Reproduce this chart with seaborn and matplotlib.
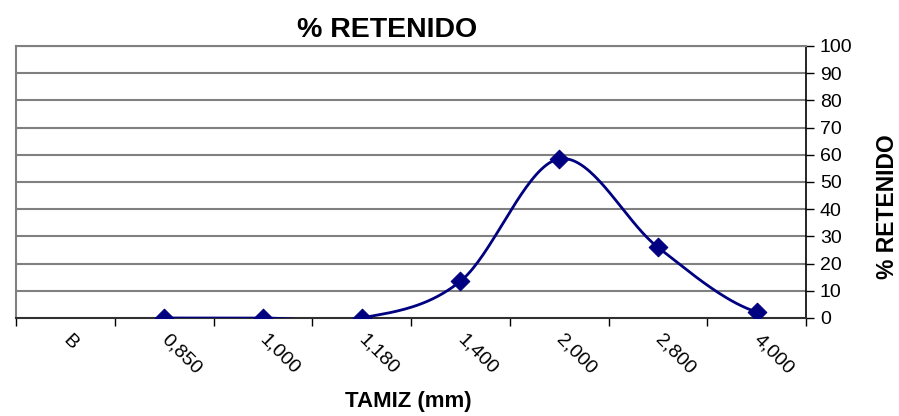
"""% retenido por tamiz"""

import matplotlib
matplotlib.use("Agg")
import matplotlib.pyplot as plt
import numpy as np
import pandas as pd
import seaborn as sns

# datos
tamices = ["B", "0,850", "1,000", "1,180", "1,400", "2,000", "2,800", "4,000"]
retenido = [np.nan, 0.0, 0.0, 0.0, 13.5, 58.5, 26.0, 2.2]
y_ticks = list(range(0, 101, 10))

NAVY = "#000080"
GRID = "#808080"


def catmull_rom(x, y, n=40):
    """Curva suavizada tipo Excel entre puntos consecutivos."""
    x = np.asarray(x, float)
    y = np.asarray(y, float)
    px = np.concatenate([[2 * x[0] - x[1]], x, [2 * x[-1] - x[-2]]])
    py = np.concatenate([[y[0]], y, [y[-1]]])
    xs, ys = [], []
    for i in range(1, len(px) - 2):
        t = np.linspace(0, 1, n)
        for p, out in ((px, xs), (py, ys)):
            p0, p1, p2, p3 = p[i - 1], p[i], p[i + 1], p[i + 2]
            out.append(0.5 * ((2 * p1) + (-p0 + p2) * t
                              + (2 * p0 - 5 * p1 + 4 * p2 - p3) * t ** 2
                              + (-p0 + 3 * p1 - 3 * p2 + p3) * t ** 3))
    return np.concatenate(xs), np.concatenate(ys)


sns.set_style("white")
plt.rcParams["font.family"] = ["Liberation Sans", "DejaVu Sans"]
plt.rcParams["text.color"] = "black"
plt.rcParams["xtick.color"] = "black"
plt.rcParams["ytick.color"] = "black"

df = pd.DataFrame({"pos": np.arange(len(tamices)), "tamiz": tamices, "ret": retenido})
pts = df.dropna()

fig = plt.figure(figsize=(8.99, 4.16), dpi=100)
ax = fig.add_axes([16 / 899, 1 - 318 / 416, 790 / 899, 272 / 416])

sx, sy = catmull_rom(pts["pos"], pts["ret"])
curve = pd.DataFrame({"x": sx, "y": sy})
sns.lineplot(data=curve, x="x", y="y", ax=ax, color=NAVY, lw=2, sort=False,
             estimator=None, zorder=3)
sns.scatterplot(data=pts, x="pos", y="ret", ax=ax, marker="D", s=90,
                color=NAVY, edgecolor=NAVY, zorder=4)

ax.set_xlim(-0.5, len(tamices) - 0.5)
ax.set_ylim(0, 100)

# eje y a la derecha
ax.yaxis.tick_right()
ax.yaxis.set_label_position("right")
ax.set_yticks(y_ticks)
ax.tick_params(axis="y", direction="out", length=6, width=1, color="black",
               labelcolor="black", labelsize=14, pad=4, right=True, left=False)
for y in y_ticks[1:]:
    ax.axhline(y, color=GRID, lw=1.5, zorder=1)

# eje x: etiquetas centradas, marcas entre categorias
ax.set_xticks(df["pos"])
ax.set_xticklabels(tamices, rotation=-45, ha="left", va="center",
                   rotation_mode="anchor", fontsize=14)
ax.tick_params(axis="x", which="major", length=0, pad=14, labelcolor="black")
ax.set_xticks(np.arange(-0.5, len(tamices), 1.0), minor=True)
ax.tick_params(axis="x", which="minor", direction="out", length=6, width=1,
               color="black", bottom=True)

for side in ["left", "top"]:
    ax.spines[side].set_color(GRID)
    ax.spines[side].set_linewidth(1.5)
ax.spines["right"].set_color("black")
ax.spines["bottom"].set_color("#303030")
ax.spines["right"].set_linewidth(1.2)
ax.spines["bottom"].set_linewidth(1.5)

ax.set_xlabel("")
ax.set_ylabel("")
fig.text(387 / 899, 1 - 30 / 416, "% RETENIDO", ha="center", va="center",
         fontsize=20.5, fontweight="bold", color="black")
fig.text(408 / 899, 1 - 402 / 416, "TAMIZ (mm)", ha="center", va="center",
         fontsize=16, fontweight="bold", color="black")
fig.text(887 / 899, 1 - 207 / 416, "% RETENIDO", ha="center", va="center",
         rotation=90, fontsize=16.5, fontweight="bold", color="black")

fig.savefig("out.png", dpi=100)
plt.close(fig)
